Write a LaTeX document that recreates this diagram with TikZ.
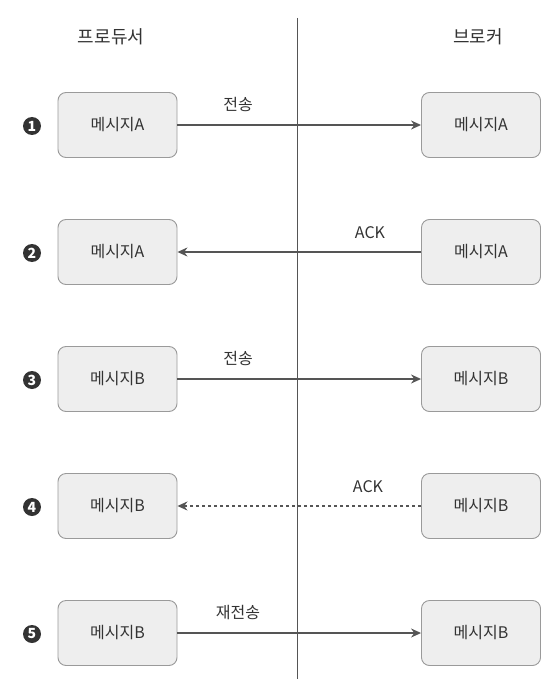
\documentclass[tikz,border=0pt]{standalone}
\usepackage{fontspec}
\setmainfont{Noto Sans CJK KR}
\usetikzlibrary{arrows.meta}
\definecolor{boxfill}{HTML}{EEEEEE}
\definecolor{boxline}{HTML}{9A9A9A}
\definecolor{arrowc}{HTML}{555555}
\definecolor{textc}{HTML}{333333}
\tikzset{
  x=1pt, y=-1pt,
  msg/.style={draw=boxline, fill=boxfill, rounded corners=8pt, line width=0.9pt,
    minimum width=119pt, minimum height=65pt, inner sep=0pt,
    font=\fontsize{16}{18}\selectfont, text=textc},
  hdr/.style={font=\fontsize{18}{20}\selectfont, text=textc},
  lbl/.style={font=\fontsize{16}{18}\selectfont, text=textc},
  num/.style={circle, fill=textc, minimum size=18pt, inner sep=0pt,
    text=white, font=\fontsize{14}{14}\selectfont\bfseries},
  conn/.style={draw=arrowc, line width=1.3pt, -{Stealth[length=10pt,width=9pt]}},
  dconn/.style={conn, dash pattern=on 3pt off 3pt},
}
\begin{document}
\begin{tikzpicture}
\useasboundingbox (0,0) rectangle (558,679);
\coordinate (vtop) at (297,18);
\coordinate (vbot) at (297,679);
\draw[draw=arrowc, line width=0.9pt] (vtop) -- (vbot);
\node[hdr] (hp) at (111,37) {프로듀서};
\node[hdr] (hb) at (478,37) {브로커};

% row 1
\node[num] (n1) at (32,126) {1};
\node[msg] (p1) at (117.5,125) {메시지A};
\node[msg] (b1) at (481,125) {메시지A};
\draw[conn] (p1) -- (b1);
\node[lbl] (l1) at (238,105) {전송};

% row 2
\node[num] (n2) at (32,253) {2};
\node[msg] (p2) at (117.5,252) {메시지A};
\node[msg] (b2) at (481,252) {메시지A};
\draw[conn] (b2) -- (p2);
\node[lbl] (l2) at (370,233) {ACK};

% row 3
\node[num] (n3) at (32,380) {3};
\node[msg] (p3) at (117.5,379) {메시지B};
\node[msg] (b3) at (481,379) {메시지B};
\draw[conn] (p3) -- (b3);
\node[lbl] (l3) at (238,358) {전송};

% row 4
\node[num] (n4) at (32,507) {4};
\node[msg] (p4) at (117.5,506) {메시지B};
\node[msg] (b4) at (481,506) {메시지B};
\draw[dconn] (b4) -- (p4);
\node[lbl] (l4) at (368,487) {ACK};

% row 5
\node[num] (n5) at (32,634) {5};
\node[msg] (p5) at (117.5,633) {메시지B};
\node[msg] (b5) at (481,633) {메시지B};
\draw[conn] (p5) -- (b5);
\node[lbl] (l5) at (238,613) {재전송};
\end{tikzpicture}
\end{document}
